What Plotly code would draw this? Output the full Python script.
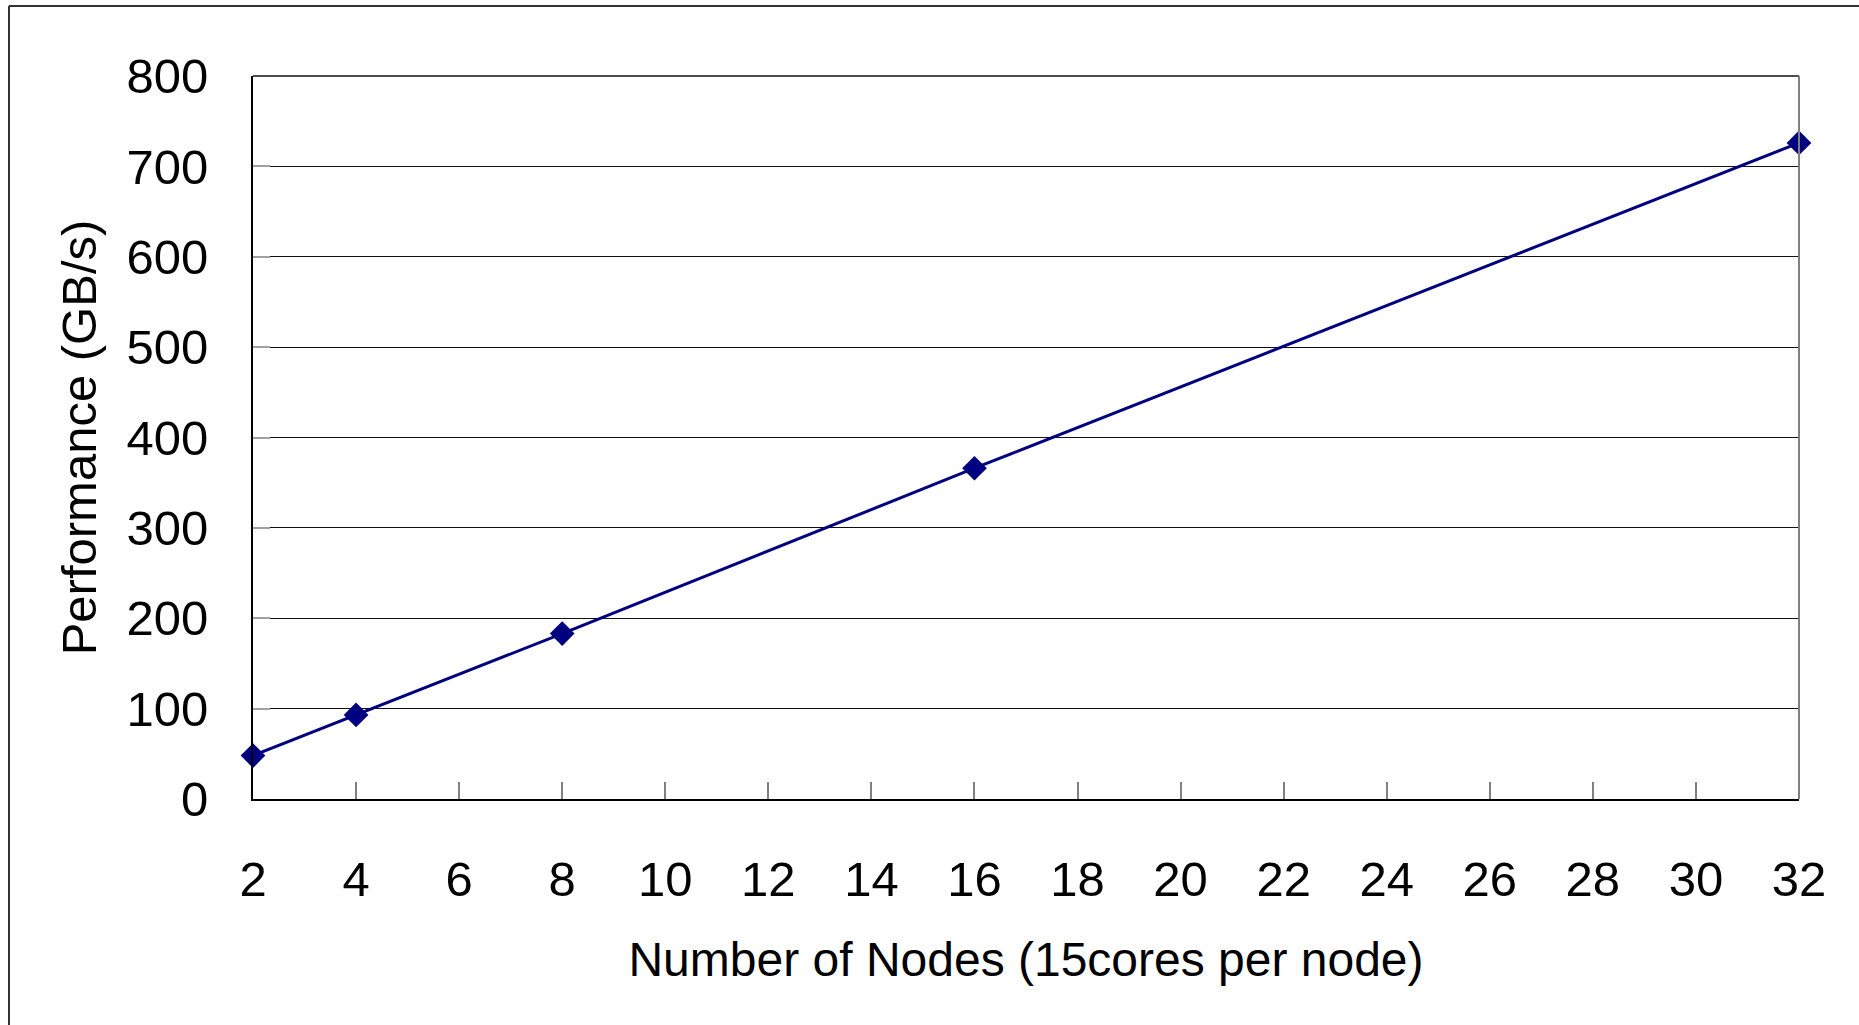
import plotly.graph_objects as go

nodes = [2, 4, 8, 16, 32]
performance = [48, 93, 183, 366, 726]
x_ticks = list(range(2, 33, 2))
y_ticks = list(range(0, 801, 100))

W, H = 1859, 1025
L, R, T, B = 253, 60, 76, 226
pw, ph = W - L - R, H - T - B

def px_x(p):
    return (p - L) / pw

def px_y(p):
    return (H - B - p) / ph

fig = go.Figure()
fig.add_trace(go.Scatter(
    x=nodes, y=performance, mode="lines+markers",
    line=dict(color="#000080", width=3),
    marker=dict(symbol="diamond", size=19, color="#000080"),
    cliponaxis=False, showlegend=False,
))

font = dict(family="Liberation Sans, Arial, sans-serif", size=49, color="black")
title_font = dict(family="Liberation Sans, Arial, sans-serif", size=48, color="black")

fig.update_layout(
    width=W, height=H,
    margin=dict(l=L, r=R, t=T, b=B),
    paper_bgcolor="white", plot_bgcolor="white",
    font=font,
    xaxis=dict(
        range=[2, 32], tickvals=x_ticks, ticktext=[str(v) for v in x_ticks],
        showgrid=False, zeroline=False,
        showline=True, linecolor="black", linewidth=2,
        ticks="inside", ticklen=17, tickcolor="#808080", tickwidth=2,
        ticklabelstandoff=36, tickfont=font,
        title=dict(text="Number of Nodes (15cores per node)", font=title_font, standoff=38),
    ),
    yaxis=dict(
        range=[0, 800], tickvals=y_ticks,
        showgrid=True, gridcolor="#111111", gridwidth=1.2,
        zeroline=False,
        showline=True, linecolor="black", linewidth=2,
        ticks="inside", ticklen=17, tickcolor="#a0a0a0", tickwidth=2,
        ticklabelstandoff=33, tickfont=font,
        title=dict(text="Performance (GB/s)", font=font, standoff=14),
    ),
    shapes=[
        dict(type="line", xref="paper", yref="paper", x0=0, x1=1, y0=1, y1=1,
             line=dict(color="#111111", width=1.5)),
        dict(type="line", xref="paper", yref="paper", x0=1, x1=1, y0=0, y1=1,
             line=dict(color="#808080", width=2)),
        dict(type="line", xref="paper", yref="paper", x0=px_x(9), x1=px_x(9),
             y0=px_y(6), y1=px_y(1100), line=dict(color="#333333", width=2)),
        dict(type="line", xref="paper", yref="paper", x0=px_x(9), x1=px_x(2000),
             y0=px_y(6), y1=px_y(6), line=dict(color="#333333", width=2)),
    ],
)

fig.write_html(
    "out.html",
    config={"displayModeBar": False},
    post_script="document.body.style.margin='0';document.body.style.overflow='hidden';",
)
